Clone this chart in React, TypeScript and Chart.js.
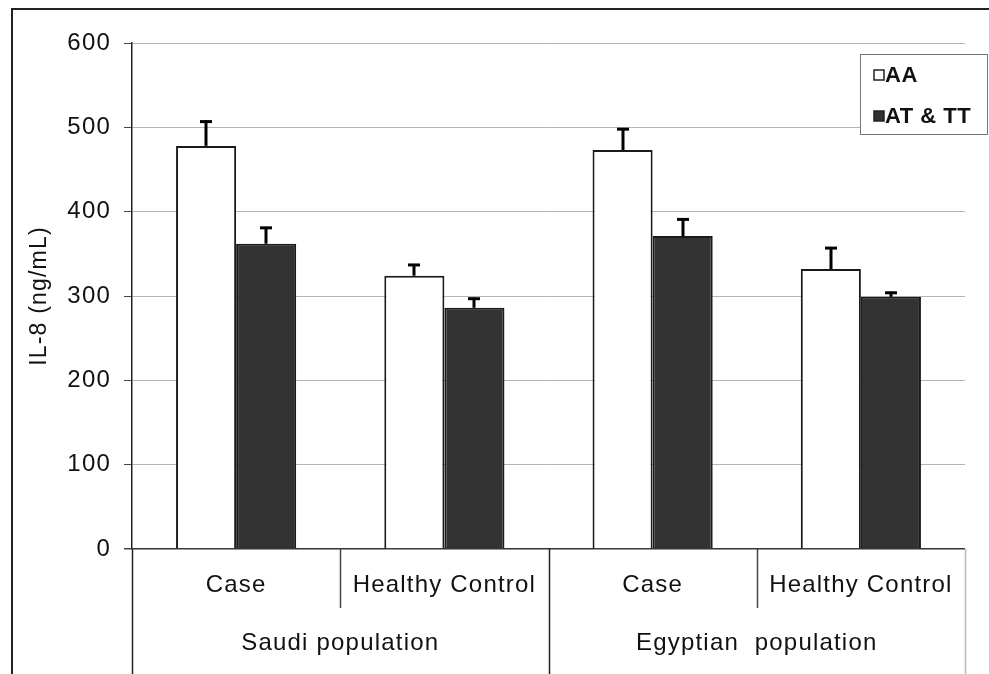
import React, { useEffect, useRef } from "react";
import { Chart, registerables } from "chart.js";

Chart.register(...registerables);

const categories = ["Case", "Healthy Control", "Case", "Healthy Control"];
const populations = ["Saudi population", "Egyptian  population"];
const seriesNames = ["AA", "AT & TT"];
const aaValues = [478, 324, 473, 332];
const aaErrors = [30, 14, 26, 26];
const atValues = [362, 286, 371, 299];
const atErrors = [20, 12, 21, 6];
const yTicksMin = 0;
const yTicksMax = 600;
const yTickStep = 100;

const FONT = "'Liberation Sans', Arial, Helvetica, sans-serif";

const errorsByDataset = [aaErrors, atErrors];

const customPlugin = {
  id: "customDecor",
  beforeDraw(chart: any) {
    chart.ctx.letterSpacing = "1.2px";
  },
  afterDatasetsDraw(chart: any) {
    const ctx = chart.ctx;
    const yScale = chart.scales.y;
    ctx.save();
    ctx.strokeStyle = "#000";
    ctx.lineWidth = 3;
    chart.data.datasets.forEach((ds: any, di: number) => {
      const meta = chart.getDatasetMeta(di);
      meta.data.forEach((bar: any, i: number) => {
        const v = ds.data[i];
        const e = errorsByDataset[di][i];
        const yTop = yScale.getPixelForValue(v + e);
        const x = Math.round(bar.x);
        ctx.beginPath();
        ctx.moveTo(x, bar.y);
        ctx.lineTo(x, yTop);
        ctx.stroke();
        ctx.beginPath();
        ctx.moveTo(x - 6, yTop + 1);
        ctx.lineTo(x + 6, yTop + 1);
        ctx.stroke();
      });
    });
    ctx.restore();
  },
  afterDraw(chart: any) {
    const ctx = chart.ctx;
    const xScale = chart.scales.x;
    const area = chart.chartArea;
    const H = chart.height;
    const W = chart.width;
    ctx.save();
    const px = categories.map((_, i) => xScale.getPixelForValue(i));
    const b1 = (px[0] + px[1]) / 2;
    const b2 = (px[1] + px[2]) / 2;
    const b3 = (px[2] + px[3]) / 2;
    ctx.lineWidth = 1.5;
    const vline = (x: number, y0: number, y1: number, color: string) => {
      ctx.strokeStyle = color;
      ctx.beginPath();
      ctx.moveTo(Math.round(x) + 0.5, y0);
      ctx.lineTo(Math.round(x) + 0.5, y1);
      ctx.stroke();
    };
    vline(area.left, area.bottom, H, "#222");
    vline(b2, area.bottom, H, "#222");
    vline(area.right, area.bottom, H, "#bbb");
    vline(b1, area.bottom, area.bottom + 59, "#444");
    vline(b3, area.bottom, area.bottom + 59, "#444");
    ctx.fillStyle = "#111";
    ctx.font = "24px " + FONT;
    ctx.textAlign = "center";
    ctx.textBaseline = "middle";
    ctx.fillText(populations[0], (area.left + b2) / 2, 643);
    ctx.fillText(populations[1], (b2 + area.right) / 2, 643);
    ctx.strokeStyle = "#222";
    ctx.lineWidth = 2;
    ctx.beginPath();
    ctx.moveTo(12, H);
    ctx.lineTo(12, 9);
    ctx.lineTo(W, 9);
    ctx.stroke();
    ctx.fillStyle = "#fff";
    ctx.fillRect(860, 54, 128, 81);
    ctx.strokeStyle = "#777";
    ctx.lineWidth = 1;
    ctx.strokeRect(860.5, 54.5, 127, 80);
    const fills = ["#ffffff", "#333333"];
    const rowsY = [75, 116];
    ctx.letterSpacing = "0.5px";
    ctx.font = "bold 22px " + FONT;
    ctx.textAlign = "left";
    ctx.textBaseline = "middle";
    seriesNames.forEach((name, i) => {
      ctx.fillStyle = fills[i];
      ctx.fillRect(874, rowsY[i] - 5, 10, 10);
      ctx.strokeStyle = "#222";
      ctx.lineWidth = 1.5;
      ctx.strokeRect(874, rowsY[i] - 5, 10, 10);
      ctx.fillStyle = "#111";
      ctx.fillText(name, 885, rowsY[i] + 1);
    });
    ctx.restore();
    ctx.letterSpacing = "0px";
  },
};

export default function App() {
  const canvasRef = useRef<HTMLCanvasElement | null>(null);
  useEffect(() => {
    const canvas = canvasRef.current;
    if (!canvas) return;
    const chart = new Chart(canvas, {
      type: "bar",
      data: {
        labels: categories,
        datasets: [
          {
            label: seriesNames[0],
            data: aaValues,
            backgroundColor: "#ffffff",
            borderColor: "#1a1a1a",
            borderWidth: 2,
            categoryPercentage: 0.577,
            barPercentage: 1,
          },
          {
            label: seriesNames[1],
            data: atValues,
            backgroundColor: "#333333",
            borderColor: "#1a1a1a",
            borderWidth: 2,
            categoryPercentage: 0.577,
            barPercentage: 1,
          },
        ],
      },
      options: {
        responsive: false,
        animation: false,
        layout: { padding: { top: 43, right: 24, left: 0, bottom: 0 } },
        plugins: { legend: { display: false }, tooltip: { enabled: false } },
        scales: {
          x: {
            grid: { display: false },
            border: { display: false },
            ticks: { color: "#111", font: { size: 24, family: FONT }, padding: 14, maxRotation: 0, autoSkip: false },
            afterFit: (s: any) => {
              s.height = 125;
            },
          },
          y: {
            min: yTicksMin,
            max: yTicksMax,
            ticks: { stepSize: yTickStep, color: "#111", font: { size: 24, family: FONT }, padding: 13 },
            grid: {
              color: (c: any) => (c.tick && c.tick.value === 0 ? "#333" : "#b5b5b5"),
              lineWidth: (c: any) => (c.tick && c.tick.value === 0 ? 1.5 : 1),
              tickLength: 8,
              tickColor: "#444",
            },
            border: { display: true, color: "#222", width: 1.5 },
            title: {
              display: true,
              text: "IL-8 (ng/mL)",
              color: "#111",
              font: { size: 23, family: FONT },
              padding: { top: 26, bottom: 0 },
            },
            afterFit: (s: any) => {
              s.width = 132;
            },
          },
        },
      },
      plugins: [customPlugin],
    });
    return () => chart.destroy();
  }, []);
  return (
    <div style={{ position: "fixed", left: 0, top: 0, width: 989, height: 674, background: "#fff" }}>
      <canvas ref={canvasRef} width={989} height={674} style={{ display: "block" }} />
    </div>
  );
}
